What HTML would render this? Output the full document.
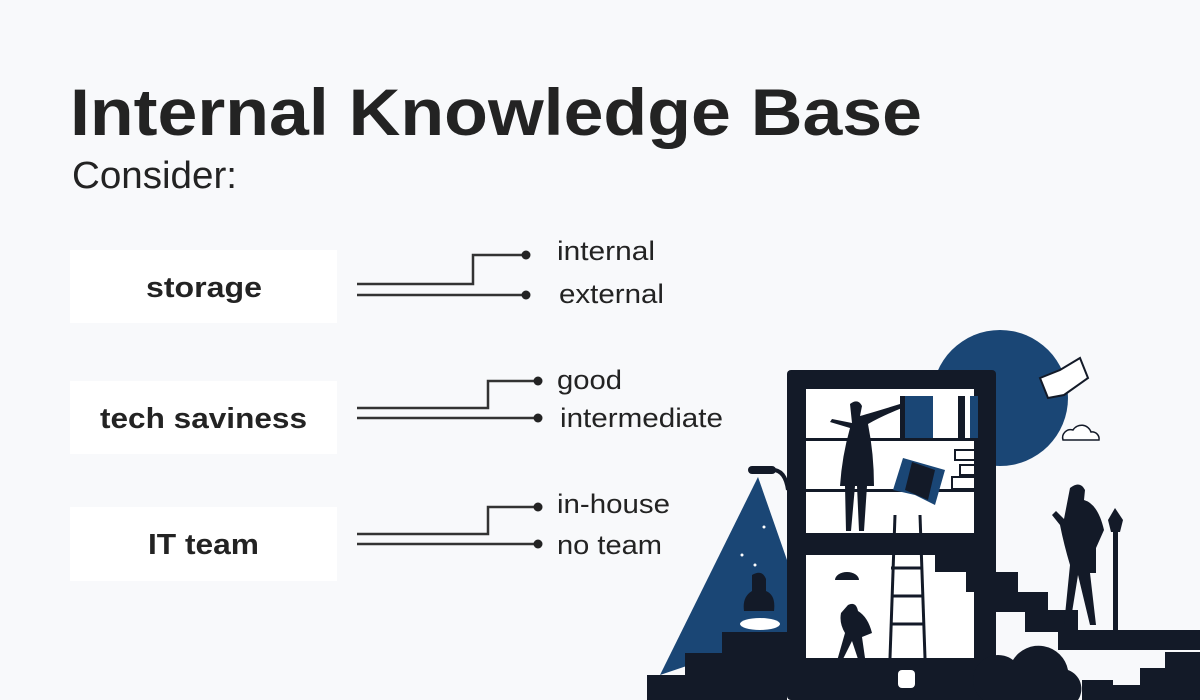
<!DOCTYPE html>
<html><head><meta charset="utf-8"><style>
html,body{margin:0;padding:0;background:#f8f9fb;}
svg{display:block}
</style></head><body>
<svg width="1200" height="700" viewBox="0 0 1200 700" xmlns="http://www.w3.org/2000/svg">
<rect width="1200" height="700" fill="#f8f9fb"/>
<g font-family="Liberation Sans, sans-serif" fill="#232323">
<text x="70" y="135" font-size="66" font-weight="bold" textLength="852" lengthAdjust="spacingAndGlyphs">Internal Knowledge Base</text>
<text x="72" y="188" font-size="38" textLength="165" lengthAdjust="spacingAndGlyphs">Consider:</text>
</g>
<g fill="#ffffff">
<rect x="70" y="250" width="267" height="73"/>
<rect x="70" y="381" width="267" height="73"/>
<rect x="70" y="507" width="267" height="74"/>
</g>
<g font-family="Liberation Sans, sans-serif" font-weight="bold" font-size="29" fill="#232323">
<text x="146" y="297" textLength="116" lengthAdjust="spacingAndGlyphs">storage</text>
<text x="100" y="428" textLength="207" lengthAdjust="spacingAndGlyphs">tech saviness</text>
<text x="148" y="554" textLength="111" lengthAdjust="spacingAndGlyphs">IT team</text>
</g>
<g stroke="#333" stroke-width="2.5" fill="none">
<polyline points="357,284 473,284 473,255 525,255"/>
<polyline points="357,295 525,295"/>
<polyline points="357,408 488,408 488,381 537,381"/>
<polyline points="357,418 537,418"/>
<polyline points="357,534 488,534 488,507 537,507"/>
<polyline points="357,544 537,544"/>
</g>
<g fill="#232323">
<circle cx="526" cy="255" r="4.5"/><circle cx="526" cy="295" r="4.5"/>
<circle cx="538" cy="381" r="4.5"/><circle cx="538" cy="418" r="4.5"/>
<circle cx="538" cy="507" r="4.5"/><circle cx="538" cy="544" r="4.5"/>
</g>
<g font-family="Liberation Sans, sans-serif" font-size="27" fill="#232323">
<text x="557" y="260" textLength="98" lengthAdjust="spacingAndGlyphs">internal</text>
<text x="559" y="303" textLength="105" lengthAdjust="spacingAndGlyphs">external</text>
<text x="557" y="389" textLength="65" lengthAdjust="spacingAndGlyphs">good</text>
<text x="560" y="427" textLength="163" lengthAdjust="spacingAndGlyphs">intermediate</text>
<text x="557" y="513" textLength="113" lengthAdjust="spacingAndGlyphs">in-house</text>
<text x="557" y="554" textLength="105" lengthAdjust="spacingAndGlyphs">no team</text>
</g>
<!-- illustration -->
<circle cx="1000" cy="398" r="68" fill="#1a4675"/>
<polygon points="758,477 660,675 787,632 787,560" fill="#1a4675"/>
<path d="M752,466 h20 a4,4 0 0 1 0,8 h-20 a4,4 0 0 1 0,-8z" fill="#131a28"/>
<path d="M770,470 q15,-2 18,20" stroke="#131a28" stroke-width="4" fill="none"/>
<rect x="787" y="370" width="209" height="330" rx="4" fill="#131a28"/>
<rect x="806" y="389" width="168" height="144" fill="#ffffff"/>
<rect x="806" y="555" width="168" height="103" fill="#ffffff"/>
<rect x="806" y="438" width="168" height="3" fill="#131a28"/>
<rect x="806" y="489" width="168" height="3" fill="#131a28"/>
<rect x="900" y="396" width="33" height="42" fill="#1a4675"/>
<rect x="900" y="396" width="5" height="42" fill="#131a28"/>
<rect x="958" y="396" width="7" height="42" fill="#131a28"/>
<rect x="970" y="396" width="8" height="42" fill="#1a4675"/>
<rect x="983" y="396" width="5" height="42" fill="#131a28"/>
<rect x="955" y="450" width="35" height="10" fill="none" stroke="#131a28" stroke-width="2"/>
<rect x="960" y="465" width="30" height="10" fill="none" stroke="#131a28" stroke-width="2"/>
<rect x="952" y="477" width="40" height="12" fill="none" stroke="#131a28" stroke-width="2"/>
<polygon points="893,490 903,458 945,470 935,505 915,495" fill="#1a4675"/>
<polygon points="905,490 912,462 935,470 928,500" fill="#131a28"/>
<path d="M850,404 q8,-6 12,2 l-2,10 q14,-4 40,-12 l2,4 q-20,8 -34,16 q6,30 6,62 h-34 q2,-30 10,-58 l-20,-6 l2,-3 l20,4 z" fill="#131a28"/>
<path d="M845,486 h10 l-4,45 h-5z M857,486 h10 l-3,45 h-5z" fill="#131a28"/>
<g stroke="#131a28" stroke-width="3"><line x1="895" y1="515" x2="890" y2="658"/><line x1="920" y1="515" x2="925" y2="658"/>
<line x1="891" y1="568" x2="922" y2="568"/><line x1="891" y1="596" x2="923" y2="596"/><line x1="890" y1="624" x2="924" y2="624"/></g>
<polygon points="787,533 957,533 957,552 988,552 988,572 1018,572 1018,592 1048,592 1048,610 1078,610 1078,630 1200,630 1200,650 1058,650 1058,632 1025,632 1025,612 996,612 996,592 966,592 966,572 935,572 935,553 787,553" fill="#131a28"/>
<polygon points="1113,700 1113,680 1082,680 1082,700" fill="#131a28"/>
<polygon points="1113,700 1113,685 1140,685 1140,668 1165,668 1165,652 1200,652 1200,700" fill="#131a28"/>
<path d="M983,700 a25,25 0 0 1 30,-40 a30,30 0 0 1 55,10 a20,20 0 0 1 10,30z" fill="#131a28"/>
<polygon points="647,700 647,675 685,675 685,653 722,653 722,632 787,632 787,700" fill="#131a28"/>
<rect x="1113" y="520" width="5" height="110" fill="#131a28"/>
<polygon points="1108,520 1115,508 1123,520 1120,532 1111,532" fill="#131a28"/>
<path d="M1070,488 q10,-8 15,2 l-1,10 q14,4 20,30 l-8,18 v25 h-6 l6,52 h-6 l-12,-50 l-8,50 h-6 l6,-60 q-6,-20 -10,-40 l-8,-10 l4,-4 l8,8z" fill="#131a28"/>
<path d="M752,575 q10,-6 14,4 v12 q10,4 8,20 h-30 q-2,-14 8,-20z" fill="#131a28"/>
<ellipse cx="760" cy="624" rx="20" ry="6" fill="#ffffff"/>
<path d="M835,580 a12,8 0 0 1 24,0z" fill="#131a28"/>
<path d="M848,605 q8,-4 10,6 q10,6 14,22 l-10,4 l4,28 h-6 l-8,-24 l-10,20 h-5 l8,-28 q-6,-10 -4,-20z" fill="#131a28"/>
<rect x="898" y="670" width="17" height="18" rx="4" fill="#ffffff"/>
<polygon points="1040,378 1060,370 1080,358 1088,378 1064,395 1048,398" fill="#ffffff" stroke="#131a28" stroke-width="2"/>
<path d="M1063,440 a8,8 0 0 1 10,-10 a10,10 0 0 1 18,2 a7,7 0 0 1 8,8z" fill="#ffffff" stroke="#131a28" stroke-width="1.5"/>
<g fill="#ffffff"><circle cx="755" cy="565" r="1.5"/><circle cx="742" cy="555" r="1.5"/><circle cx="764" cy="527" r="1.5"/></g>
</svg>
</body></html>
